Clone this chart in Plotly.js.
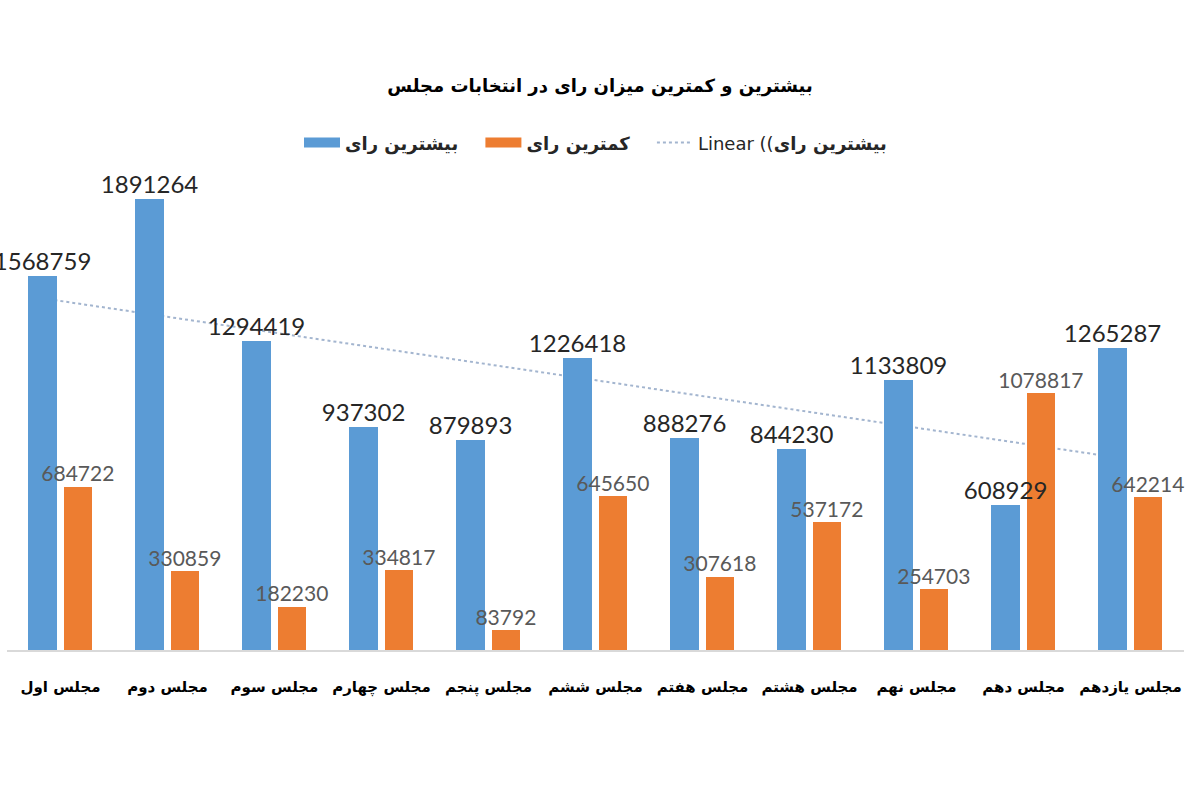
<!DOCTYPE html>
<html>
<head>
<meta charset="utf-8">
<script src="https://cdn.plot.ly/plotly-3.0.1.min.js"></script>
<style>
  html, body { margin: 0; padding: 0; background: #fff; }
  #chart { width: 1200px; height: 800px; }
</style>
</head>
<body>
<div id="chart"></div>
<script>
/* ── Data ─────────────────────────────────────────────── */
const CATEGORIES = ['مجلس اول', 'مجلس دوم', 'مجلس سوم', 'مجلس چهارم', 'مجلس پنجم', 'مجلس ششم',
                    'مجلس هفتم', 'مجلس هشتم', 'مجلس نهم', 'مجلس دهم', 'مجلس یازدهم'];
const MAX_VOTES = [1568759, 1891264, 1294419, 937302, 879893, 1226418, 888276, 844230, 1133809, 608929, 1265287];
const MIN_VOTES = [684722, 330859, 182230, 334817, 83792, 645650, 307618, 537172, 254703, 1078817, 642214];
// trendline end values (first and last parliament)
const TREND_CATS = [1, 11];
const TREND_VALUES = [1475000, 810000];

const BLUE = '#5B9BD5';
const ORANGE = '#ED7D31';
const TREND = '#A3B5CF';
const PERSIAN_FONT = 'DejaVu Sans, sans-serif';
const NUM_FONT = 'Lato, Open Sans, sans-serif';

const BAR_W = 0.265;
const BLUE_OFF = -0.30;
const ORANGE_OFF = 0.03;
const X_RANGE = [0.5, 11.5];
const Y_RANGE = [0, 2055000];

const idx = CATEGORIES.map((_, i) => i + 1);
const blueX = idx.map(i => i + BLUE_OFF + BAR_W / 2);
const orangeX = idx.map(i => i + ORANGE_OFF + BAR_W / 2);

const GAP = '\u00a0\u00a0\u00a0';
function legendEntry(name, line) {
  return { type: 'scatter', mode: 'lines', name, x: [null], y: [null], line };
}

/* bars sit on an overlaying subplot so the trendline stays behind them;
   value labels are text-only scatters so they land above every bar */
const traces = [
  {
    type: 'scatter', mode: 'lines', showlegend: false, hoverinfo: 'skip',
    x: TREND_CATS.map(c => c + BLUE_OFF + BAR_W / 2), y: TREND_VALUES,
    line: { color: TREND, width: 2, dash: 'dot' }
  },
  {
    type: 'bar', xaxis: 'x2', yaxis: 'y2', showlegend: false,
    x: idx, y: MAX_VOTES, width: BAR_W, offset: BLUE_OFF,
    marker: { color: BLUE }
  },
  {
    type: 'bar', xaxis: 'x2', yaxis: 'y2', showlegend: false,
    x: idx, y: MIN_VOTES, width: BAR_W, offset: ORANGE_OFF,
    marker: { color: ORANGE }
  },
  {
    type: 'scatter', mode: 'text', xaxis: 'x2', yaxis: 'y2', showlegend: false,
    x: blueX, y: MAX_VOTES, text: MAX_VOTES.map(String), textposition: 'top center',
    textfont: { family: NUM_FONT, size: 24, color: '#262626' }, cliponaxis: false
  },
  {
    type: 'scatter', mode: 'text', xaxis: 'x2', yaxis: 'y2', showlegend: false,
    x: orangeX, y: MIN_VOTES, text: MIN_VOTES.map(String), textposition: 'top center',
    textfont: { family: NUM_FONT, size: 21, color: '#595959' }, cliponaxis: false
  },
  legendEntry('<b>بیشترین رای</b>' + GAP, { color: BLUE, width: 10 }),
  legendEntry('<b>کمترین رای</b>' + GAP, { color: ORANGE, width: 10 }),
  legendEntry('Linear ((<b>بیشترین رای</b>', { color: TREND, width: 2, dash: 'dot' })
];

const layout = {
  width: 1200, height: 800,
  paper_bgcolor: '#fff', plot_bgcolor: '#fff',
  margin: { l: 7, r: 16, t: 160, b: 150 },
  showlegend: true,
  title: {
    text: '<b>بیشترین و کمترین میزان رای در انتخابات مجلس</b>',
    font: { family: PERSIAN_FONT, size: 18, color: '#000' },
    x: 0.5, xanchor: 'center', y: 1 - 86 / 800, yanchor: 'middle'
  },
  legend: {
    orientation: 'h', x: 0.5, xanchor: 'center', y: 1.035, yanchor: 'middle',
    font: { family: PERSIAN_FONT, size: 18, color: '#262626' },
    traceorder: 'normal', itemwidth: 36
  },
  xaxis: {
    range: X_RANGE, tickvals: idx, ticktext: CATEGORIES.map(c => '<b>' + c + '</b>'),
    tickfont: { family: PERSIAN_FONT, size: 15, color: '#000' },
    showgrid: false, zeroline: false, showline: true, linecolor: '#D9D9D9', linewidth: 1.5,
    ticks: '', ticklabelstandoff: 22, fixedrange: true
  },
  yaxis: { range: Y_RANGE, visible: false, fixedrange: true },
  xaxis2: { overlaying: 'x', range: X_RANGE, visible: false, fixedrange: true },
  yaxis2: { overlaying: 'y', range: Y_RANGE, visible: false, fixedrange: true },
  bargap: 0
};

Plotly.newPlot('chart', traces, layout, { displayModeBar: false, staticPlot: true });
</script>
</body>
</html>
